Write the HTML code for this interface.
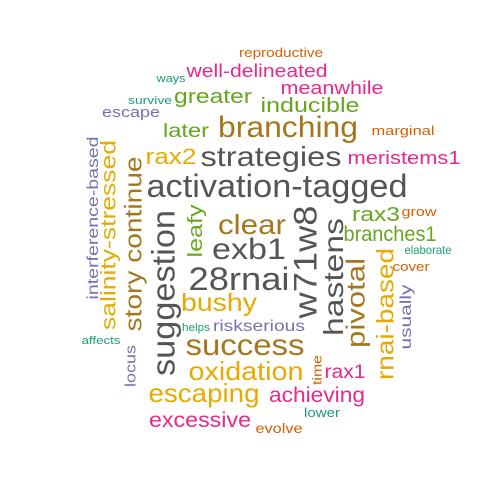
<!DOCTYPE html>
<html><head><meta charset="utf-8"><style>
html,body{margin:0;padding:0;background:#fff;}
svg{display:block;font-family:"Liberation Sans",Arial,sans-serif;}
</style></head><body>
<svg id="cloud" width="500" height="500" viewBox="0 0 500 500"></svg>
<script>
const words = ["reproductive","well-delineated","ways","meanwhile","greater","survive","inducible","escape","branching","later","marginal","rax2","strategies","meristems1","activation-tagged","clear","rax3","grow","branches1","exb1","elaborate","28rnai","cover","bushy","helps","riskserious","affects","success","oxidation","rax1","escaping","achieving","lower","excessive","evolve","interference-based","salinity-stressed","story continue","suggestion","leafy","w71w8","hastens","pivotal","rnai-based","usually","locus","time"];
const sizes = [13,18,11,18,20,11,20,15,30,19,13,22,28,18,32,28,20,13,21,30,12,32,13,25,11,16,11,30,26,19,26,21,13,21,14,16,21,24,32,20,32,28,26,24,16,15,13];
const colorIdx = [1,3,0,3,4,0,4,2,6,4,1,5,7,3,7,6,4,1,4,7,0,7,1,5,0,2,0,6,5,3,5,3,0,3,1,2,5,6,7,4,7,7,6,5,2,2,1];
const palette = ["#1B9E77","#D95F02","#7570B3","#E7298A","#66A61E","#E6AB02","#A6761D","#555555"];
// layout: [cx, cy/baseline, length, rotated(0/1)]
const layout = [[281,57,84,0],[257,77,141,0],[171,82,29,0],[332,94,103,0],[213,103,78,0],[150,104,44,0],[310,112,99,0],[131,117,58,0],[288,137,140,0],[186,137,46,0],[403,135,63,0],[171,164,51,0],[271,166,141,0],[404,164,113,0],[277,197,261,0],[252,234,68,0],[376,221,48,0],[419,216,35,0],[390,241,93,0],[249,259,74,0],[428,254,47,0],[239,290,101,0],[411,271,37,0],[219,311,76,0],[196,331,28,0],[259,331,92,0],[101,344,39,0],[245,355,119,0],[246,380,115,0],[345,378,41,0],[204,402,111,0],[317,402,96,0],[322,417,36,0],[200,427,102,0],[279,433,47,0],
[92,218,163,1],[108,235,190,1],[133,244,175,1],[163,293,166,1],[195,231,53,1],[305,262,113,1],[333,277,118,1],[355,303,90,1],[385,314,132,1],[405,317,65,1],[130,366,42,1],[317,370,30,1]];
const svg = document.getElementById('cloud');
const NS = "http://www.w3.org/2000/svg";
for (let i = 0; i < words.length; i++) {
  const [cx, cy, len, rot] = layout[i];
  const s = sizes[i];
  const t = document.createElementNS(NS, 'text');
  
  
  t.setAttribute('font-size', s);
  t.setAttribute('fill', palette[colorIdx[i]]);
  t.setAttribute('text-anchor', 'middle');
  t.setAttribute('textLength', len);
  t.setAttribute('lengthAdjust', 'spacingAndGlyphs');
  if (rot) {
    t.setAttribute('transform', 'translate(' + (cx + 0.36 * s) + ',' + cy + ') rotate(-90)');
  } else {
    t.setAttribute('x', cx);
    t.setAttribute('y', cy);
  }
  t.textContent = words[i];
  svg.appendChild(t);
}
</script>
</body></html>
